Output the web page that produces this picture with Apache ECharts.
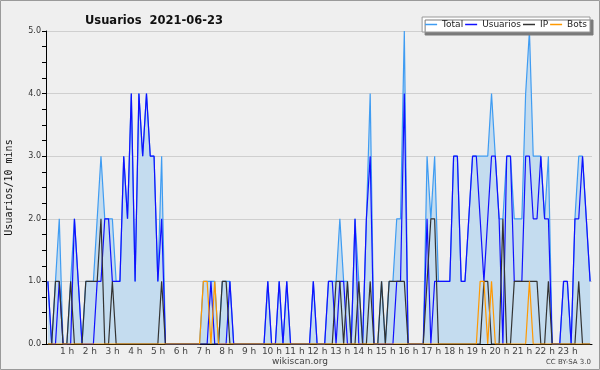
<!DOCTYPE html>
<html><head><meta charset="utf-8">
<script src="https://cdn.jsdelivr.net/npm/echarts@6/dist/echarts.min.js"></script>
<style>html,body{margin:0;padding:0;background:#efefef}#c{width:600px;height:370px}</style>
</head><body><div id="c"></div>
<script>
// 10-minute slots over 24 h (144 points), rows of 10
const usuarios = [
1,0,0,1,0,0,0,2,1,0,  0,0,0,1,1,2,2,1,1,1,  3,2,4,1,4,3,4,3,3,1,  2,0,0,0,0,0,0,0,0,0,
0,0,0,1,0,0,0,0,1,0,  0,0,0,0,0,0,0,0,1,0,  0,1,0,1,0,0,0,0,0,0,  1,0,0,0,1,1,0,1,1,0,
0,2,0,0,2,3,0,0,0,0,  0,0,1,1,4,0,0,0,0,0,  2,0,1,1,1,1,1,3,3,1,  1,2,3,3,2,1,2,3,3,2,
0,3,3,1,1,1,3,3,2,2,  3,2,2,0,0,0,1,1,0,2,  2,3,2,1];
const ip = [
0,0,1,1,0,0,1,0,0,0,  1,1,1,1,2,0,0,1,0,0,  0,0,0,0,0,0,0,0,0,0,  1,0,0,0,0,0,0,0,0,0,
0,0,0,0,0,0,1,1,0,0,  0,0,0,0,0,0,0,0,0,0,  0,0,0,0,0,0,0,0,0,0,  0,0,0,0,0,0,1,1,0,1,
0,0,1,0,0,1,0,0,1,0,  1,1,1,1,1,0,0,0,0,0,  1,2,2,0,0,0,0,0,0,0,  0,0,0,0,0,1,1,0,0,0,
2,0,0,1,1,1,1,1,1,1,  0,0,1,0,0,0,0,0,0,0,  1,0,0,0];
const bots = [
0,0,0,0,0,0,0,0,0,0,  0,0,0,0,0,0,0,0,0,0,  0,0,0,0,0,0,0,0,0,0,  0,0,0,0,0,0,0,0,0,0,
0,1,1,0,1,0,0,0,0,0,  0,0,0,0,0,0,0,0,0,0,  0,0,0,0,0,0,0,0,0,0,  0,0,0,0,0,0,0,0,0,0,
0,0,0,0,0,0,0,0,0,0,  0,0,0,0,0,0,0,0,0,0,  0,0,0,0,0,0,0,0,0,0,  0,0,0,0,1,1,0,1,0,0,
0,0,0,0,0,0,0,1,0,0,  0,0,0,0,0,0,0,0,0,0,  0,0,0,0];
const total = [
1,0,1,2,0,0,1,2,1,0,  1,1,1,2,3,2,2,2,1,1,  3,2,4,1,4,3,4,3,3,1,  3,0,0,0,0,0,0,0,0,0,
0,1,1,1,1,0,1,1,1,0,  0,0,0,0,0,0,0,0,1,0,  0,1,0,1,0,0,0,0,0,0,  1,0,0,0,1,1,1,2,1,1,
0,2,1,0,2,4,0,0,1,0,  1,1,2,2,5,0,0,0,0,0,  3,2,3,1,1,1,1,3,3,1,  1,2,3,3,3,3,3,4,3,2,
2,3,3,2,2,2,4,5,3,3,  3,2,3,0,0,0,1,1,0,2,  3,3,2,1];
const hourLabels = ['1 h','2 h','3 h','4 h','5 h','6 h','7 h','8 h','9 h','10 h','11 h','12 h','13 h','14 h','15 h','16 h','17 h','18 h','19 h','20 h','21 h','22 h','23 h'];
const yTicks = ['0.0','1.0','2.0','3.0','4.0','5.0'];
const slots = total.map((_, i) => i);

const chart = echarts.init(document.getElementById('c'), null, {renderer: 'canvas'});
const FF = 'DejaVu Sans';
chart.setOption({
  backgroundColor: '#efefef',
  animation: false,
  title: {text: 'Usuarios  2021-06-23', left: 80, top: 10,
    textStyle: {fontFamily: FF, fontWeight: 'bold', fontSize: 11.5, color: '#111'}},
  legend: {
    right: 10, top: 17, itemGap: 2, itemWidth: 12, itemHeight: 1.5, icon: 'rect',
    backgroundColor: '#ffffff', borderColor: '#999', borderWidth: 1,
    shadowColor: '#7a7a7a', shadowOffsetX: 3, shadowOffsetY: 3, shadowBlur: 0,
    padding: [3, 3, 3, 3],
    textStyle: {fontFamily: FF, fontSize: 9, color: '#222'},
    data: ['Total', 'Usuarios', 'IP', 'Bots']
  },
  grid: {left: 46, right: 8, top: 31, bottom: 26, outerBoundsMode: 'none', containLabel: false},
  xAxis: {
    type: 'category', data: slots, boundaryGap: true,
    axisLine: {lineStyle: {color: '#000', width: 1}},
    axisTick: {interval: 0, length: 4, lineStyle: {color: '#000'}},
    axisLabel: {
      interval: 0, margin: 3, fontFamily: FF, fontSize: 9, color: '#444',
      padding: [0, 7, 0, 0],
      formatter: (v, i) => (i % 6 === 0 && i > 0) ? hourLabels[i / 6 - 1] : ''
    },
    splitLine: {show: false}
  },
  yAxis: {
    type: 'value', min: 0, max: 5, interval: 1,
    name: 'Usuarios/10 mins', nameLocation: 'middle', nameGap: 32,
    nameTextStyle: {fontFamily: 'DejaVu Sans Mono', fontSize: 10, color: '#111'},
    axisLine: {show: true, lineStyle: {color: '#000'}},
    axisTick: {show: true, length: 4, lineStyle: {color: '#000'}},
    minorTick: {show: true, splitNumber: 4, length: 4, lineStyle: {color: '#000'}},
    axisLabel: {fontFamily: FF, fontSize: 8, color: '#333', margin: 5,
      formatter: v => yTicks[Math.round(v)]},
    splitLine: {lineStyle: {color: '#cfcfcf', width: 1}}
  },
  series: [
    {name: 'Total', type: 'line', data: total, symbol: 'none',
     lineStyle: {color: '#3f9cf2', width: 1.2}, itemStyle: {color: '#3f9cf2'},
     areaStyle: {color: '#c4dcef', opacity: 1}},
    {name: 'Usuarios', type: 'line', data: usuarios, symbol: 'none',
     lineStyle: {color: '#1010ff', width: 1.2}, itemStyle: {color: '#1010ff'}},
    {name: 'IP', type: 'line', data: ip, symbol: 'none',
     lineStyle: {color: '#333333', width: 1.2}, itemStyle: {color: '#333333'}},
    {name: 'Bots', type: 'line', data: bots, symbol: 'none',
     lineStyle: {color: '#ff9900', width: 1.2}, itemStyle: {color: '#ff9900'}}
  ],
  graphic: [
    {type: 'rect', shape: {x: 0.5, y: 0.5, width: 599, height: 369}, silent: true,
     style: {fill: 'none', stroke: '#9a9a9a', lineWidth: 1}},
    {type: 'text', left: 'center', top: 357,
     style: {text: 'wikiscan.org', fontFamily: FF, fontSize: 9, fill: '#444'}},
    {type: 'text', right: 9, top: 359,
     style: {text: 'CC BY-SA 3.0', fontFamily: FF, fontSize: 7, fill: '#444'}}
  ]
});
</script></body></html>
